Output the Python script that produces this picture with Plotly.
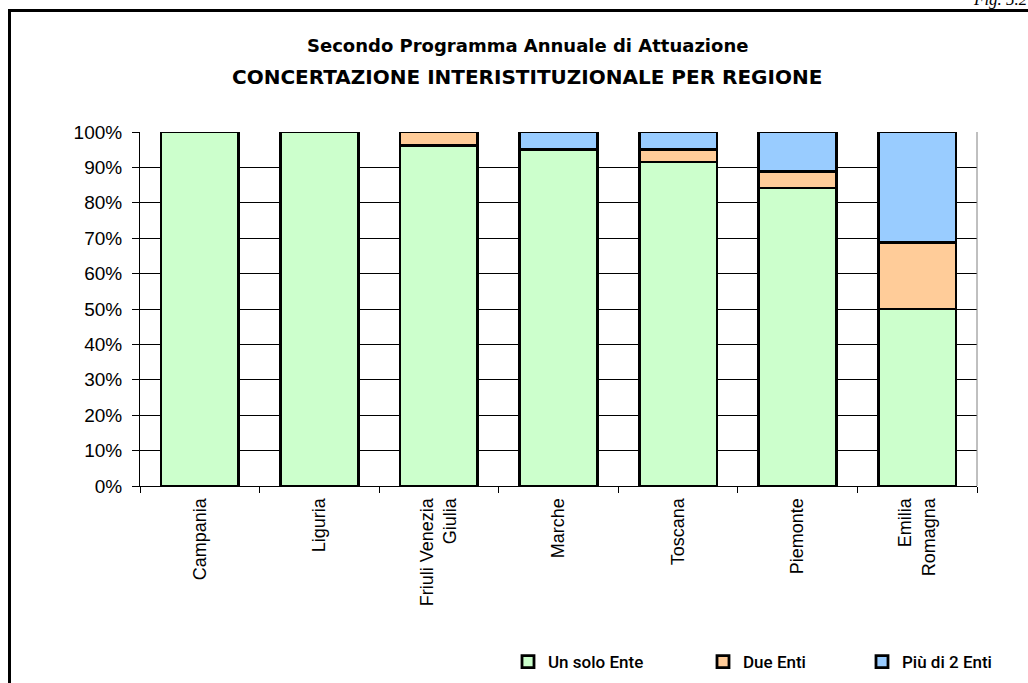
import plotly.graph_objects as go

categories = ["Campania", "Liguria", "Friuli Venezia<br>Giulia", "Marche", "Toscana", "Piemonte", "Emilia<br>Romagna"]
un_solo_ente = [100, 100, 96.2, 95.0, 91.5, 84.2, 50.0]
due_enti = [0, 0, 3.8, 0, 3.6, 4.7, 18.75]
piu_di_2_enti = [0, 0, 0, 5.0, 4.9, 11.1, 31.25]
y_ticks = [0, 10, 20, 30, 40, 50, 60, 70, 80, 90, 100]
y_tick_labels = [f"{v}%" for v in y_ticks]

W, H = 1028, 683
L, R, T, B = 140, 51, 132, 197
pw, ph = W - L - R, H - T - B

def px_x(x):
    return (x - L) / pw

def px_y(y):
    return (H - B - y) / ph

fig = go.Figure()
series = [
    ("Un solo Ente", un_solo_ente, "#CCFFCC", "legend"),
    ("Due Enti", due_enti, "#FFCC99", "legend2"),
    ("Più di 2 Enti", piu_di_2_enti, "#99CCFF", "legend3"),
]
for name, vals, col, lg in series:
    fig.add_trace(go.Bar(
        x=categories, y=vals, name=name,
        marker=dict(color=col, line=dict(color="black", width=2.8)),
        legend=lg,
    ))

legend_font = dict(family="Roboto, sans-serif", size=17, color="black", weight=500)
def leg(xpix):
    return dict(x=px_x(xpix), y=px_y(662), xanchor="left", yanchor="middle",
                orientation="h", font=legend_font, bgcolor="rgba(0,0,0,0)",
                itemwidth=30)

fig.update_layout(
    width=W, height=H,
    margin=dict(l=L, r=R, t=T, b=B, autoexpand=False),
    barmode="stack", bargap=0.35,
    plot_bgcolor="white", paper_bgcolor="white",
    showlegend=True,
    legend=leg(508), legend2=leg(703), legend3=leg(862),
    xaxis=dict(
        showline=True, linecolor="black", linewidth=1, mirror=False,
        ticks="outside", tickson="boundaries", ticklen=6, tickcolor="black",
        tickangle=-90, ticklabelstandoff=4,
        tickfont=dict(family="Liberation Sans, Arial, sans-serif", size=18, color="black"),
        showgrid=False,
    ),
    yaxis=dict(
        range=[0, 100], tickvals=y_ticks, ticktext=y_tick_labels,
        showline=True, linecolor="black", linewidth=1,
        ticks="outside", ticklen=7, tickcolor="black", ticklabelstandoff=6,
        tickfont=dict(family="Liberation Sans, Arial, sans-serif", size=19, color="black"),
        showgrid=True, gridcolor="black", gridwidth=1,
        zeroline=False,
    ),
    font=dict(family="Liberation Sans, Arial, sans-serif", color="black"),
)

# right plot border
fig.add_shape(type="line", xref="paper", yref="paper", x0=1, x1=1, y0=0, y1=1,
              line=dict(color="#808080", width=1))
# outer frame
fig.add_shape(type="line", xref="paper", yref="paper", x0=px_x(9.5), x1=px_x(9.5), y0=px_y(10.5), y1=px_y(720),
              line=dict(color="black", width=3))
fig.add_shape(type="line", xref="paper", yref="paper", x0=px_x(8), x1=px_x(1060), y0=px_y(10.5), y1=px_y(10.5),
              line=dict(color="black", width=3))

fig.add_annotation(text="<b>Secondo Programma Annuale di Attuazione</b>", xref="paper", yref="paper",
                   x=px_x(527), y=px_y(45), xanchor="center", yanchor="middle", showarrow=False,
                   font=dict(family="DejaVu Sans, sans-serif", size=18, color="black", weight="bold"))
fig.add_annotation(text="<b>CONCERTAZIONE INTERISTITUZIONALE PER REGIONE</b>", xref="paper", yref="paper",
                   x=px_x(527), y=px_y(77), xanchor="center", yanchor="middle", showarrow=False,
                   font=dict(family="DejaVu Sans, sans-serif", size=20, color="black", weight="bold"))
fig.add_annotation(text="<i>Fig. 5.2</i>", xref="paper", yref="paper",
                   x=px_x(1030), y=px_y(11), xanchor="right", yanchor="bottom", showarrow=False,
                   font=dict(family="Liberation Serif, serif", size=17, color="black"))

fig.write_html("out.html", config={"displayModeBar": False},
               post_script="document.body.style.margin='0';")
